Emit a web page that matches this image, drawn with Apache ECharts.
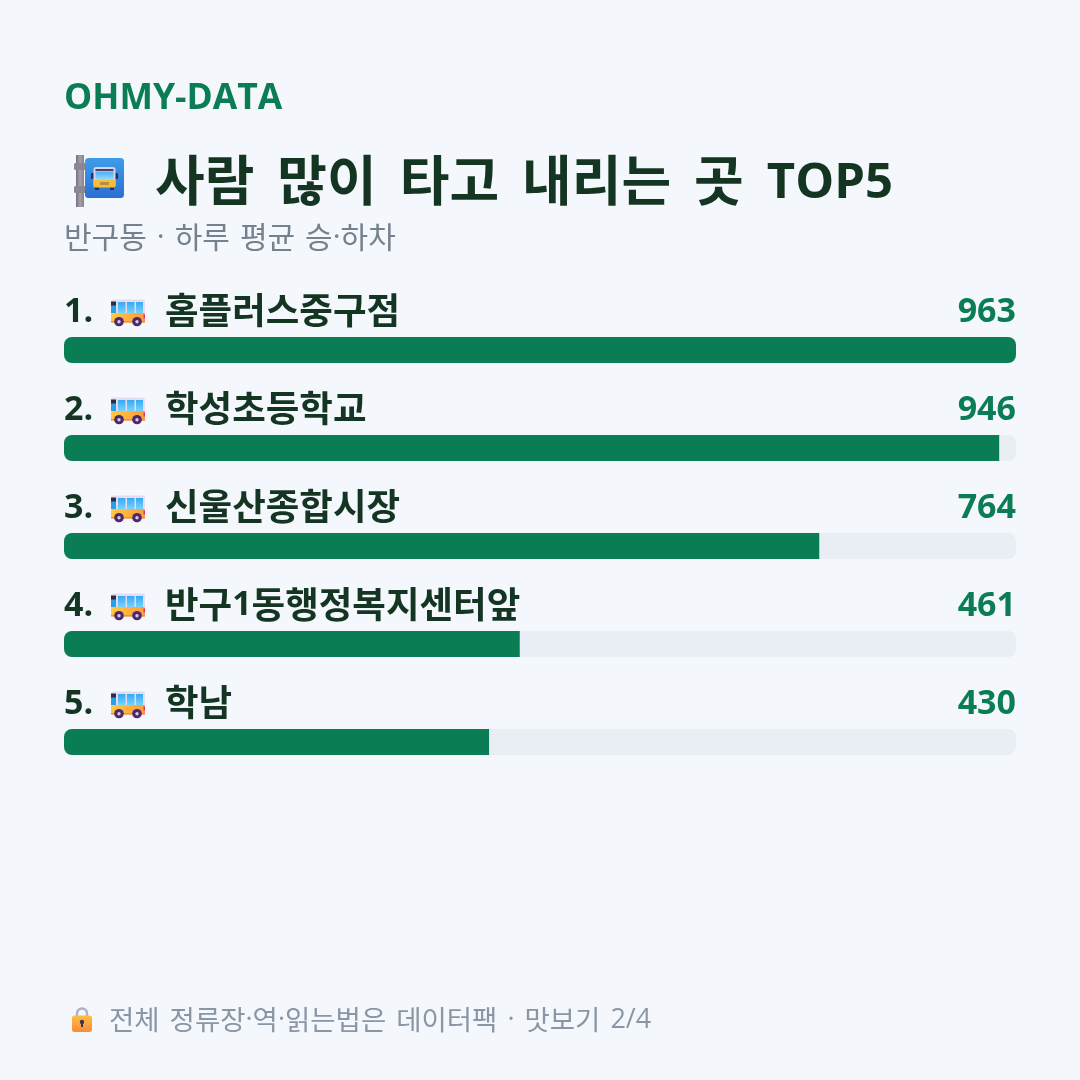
<!DOCTYPE html>
<html lang="ko">
<head>
<meta charset="utf-8">
<title>사람 많이 타고 내리는 곳 TOP5</title>
<style>
  html, body { margin: 0; padding: 0; background: #f4f7fc; }
  #chart { width: 1080px; height: 1080px; }
</style>
</head>
<body>
<div id="chart"></div>
<script src="https://cdn.jsdelivr.net/npm/echarts@6/dist/echarts.min.js"></script>
<script>
// Busiest stops in Bangu-dong: average daily boardings and alightings.
const stops = ['홈플러스중구점', '학성초등학교', '신울산종합시장', '반구1동행정복지센터앞', '학남'];
const riders = [963, 946, 764, 461, 430];
const brand = 'OHMY-DATA';
const heading = '사람 많이 타고 내리는 곳 TOP5';
const subheading = '반구동 · 하루 평균 승·하차';
const footnote = '전체 정류장·역·읽는법은 데이터팩 · 맛보기 2/4';

const GREEN = '#0a7d55';
const INK = '#133522';
const TRACK = '#e9edf4';
const KR = '"Noto Sans CJK KR", "Noto Sans", sans-serif';
const LATIN = '"Open Sans", "Noto Sans", sans-serif';

const svgUri = (w, h, body) => 'data:image/svg+xml;charset=utf-8,' + encodeURIComponent(
  `<svg xmlns="http://www.w3.org/2000/svg" width="${w}" height="${h}" viewBox="0 0 ${w} ${h}">${body}</svg>`);

// Splits mixed Korean/Latin text into rich-text runs so each script gets its own font and size.
const runs = text => text.replace(/\s+|·|[A-Za-z0-9\/\-]+|[^\sA-Za-z0-9\/\-·]+/g, part => {
  if (/^\s+$/.test(part)) return '{sp| }';
  if (part === '·') return '{dot|·}';
  if (/^[A-Za-z0-9\/\-]+$/.test(part)) return `{lat|${part}}`;
  return `{kr|${part}}`;
});

// Rich styles for one line of mixed text; latDrop nudges the Latin runs down onto the Korean baseline.
const mixedRich = (color, weight, krSize, latSize, spaceWidth, lineHeight, latDrop = 0) => ({
  kr: { color, fontFamily: KR, fontWeight: weight, fontSize: krSize, lineHeight },
  lat: { color, fontFamily: LATIN, fontWeight: weight, fontSize: latSize, lineHeight, padding: [latDrop, 0, 0, 0] },
  dot: { color, fontFamily: LATIN, fontWeight: weight, fontSize: latSize, lineHeight },
  sp: { width: spaceWidth, fontSize: krSize, lineHeight }
});

// Small side-view bus shown before every stop name; the clear strip on top lowers it on the text line.
const busIcon = svgUri(34, 33, `
  <defs>
    <linearGradient id="g" x1="0" y1="0" x2="0" y2="1"><stop offset="0" stop-color="#35a9f5"/><stop offset="1" stop-color="#74d3ff"/></linearGradient>
    <linearGradient id="o" x1="0" y1="0" x2="1" y2="0"><stop offset="0" stop-color="#ffc93f"/><stop offset="1" stop-color="#ff9a3c"/></linearGradient>
  </defs>
  <g transform="translate(0 6)">
  <rect x="0" y="0" width="34" height="22" rx="2.5" fill="#e6dcef"/>
  <rect x="0" y="13.5" width="34" height="9.5" rx="1.5" fill="url(#o)"/>
  <rect x="0" y="21.5" width="34" height="1.5" fill="#f08a5b"/>
  <rect x="0" y="3" width="5" height="10.5" fill="#2b9fe6"/>
  <rect x="0" y="2" width="5" height="4" fill="#2c2c44"/>
  <rect x="7" y="2.5" width="7.5" height="11" fill="url(#g)"/>
  <rect x="16" y="2.5" width="7.5" height="11" fill="url(#g)"/>
  <rect x="25" y="2.5" width="7" height="11" fill="url(#g)"/>
  <rect x="32.5" y="15" width="1.5" height="4" fill="#e0307a"/>
  <circle cx="8" cy="22.2" r="4.8" fill="#4b2a6b"/><circle cx="8" cy="22.2" r="1.7" fill="#d9c7e6"/>
  <circle cx="26" cy="22.2" r="4.8" fill="#4b2a6b"/><circle cx="26" cy="22.2" r="1.7" fill="#d9c7e6"/>
  </g>`);

// Bus stop sign next to the heading.
const stopSign = svgUri(53, 52, `
  <defs>
    <linearGradient id="b" x1="0" y1="0" x2="0" y2="1"><stop offset="0" stop-color="#3f9ce9"/><stop offset="1" stop-color="#2a6fd2"/></linearGradient>
    <linearGradient id="p" x1="0" y1="0" x2="1" y2="0"><stop offset="0" stop-color="#75707f"/><stop offset="0.5" stop-color="#a5a1ac"/><stop offset="1" stop-color="#85808e"/></linearGradient>
    <linearGradient id="w" x1="0" y1="0" x2="0" y2="1"><stop offset="0" stop-color="#4fb0f5"/><stop offset="1" stop-color="#9adcff"/></linearGradient>
  </defs>
  <rect x="4" y="0" width="8" height="52" fill="url(#p)"/>
  <rect x="2" y="8" width="12" height="7" rx="1.5" fill="#8a8692"/>
  <rect x="2" y="31" width="12" height="7" rx="1.5" fill="#8a8692"/>
  <rect x="13" y="3" width="39" height="40" rx="3.5" fill="url(#b)"/>
  <rect x="19" y="18" width="3" height="6" rx="1" fill="#2c2f55"/>
  <rect x="43" y="18" width="3" height="6" rx="1" fill="#2c2f55"/>
  <rect x="23" y="30" width="4" height="5" fill="#2c2f55"/>
  <rect x="38" y="30" width="4" height="5" fill="#2c2f55"/>
  <rect x="21.5" y="12" width="22" height="20" rx="2.5" fill="#d8d2ec"/>
  <rect x="23.5" y="14" width="18" height="2.2" fill="#4a3f63"/>
  <rect x="23.5" y="17" width="18" height="8" fill="url(#w)"/>
  <rect x="21.5" y="25" width="22" height="7.5" rx="1.5" fill="#f5bd3c"/>
  <rect x="28" y="27" width="9" height="3" fill="#b98f3f"/>`);

// Padlock in front of the footnote.
const padlock = svgUri(20, 25, `
  <defs><linearGradient id="l" x1="0" y1="0" x2="0" y2="1"><stop offset="0" stop-color="#fdc043"/><stop offset="1" stop-color="#fb8a3c"/></linearGradient></defs>
  <path d="M5 10 V6.5 a5 5 0 0 1 10 0 V10" fill="none" stroke="#b5aec4" stroke-width="2.4"/>
  <rect x="0" y="8.5" width="20" height="16.5" rx="2.5" fill="url(#l)"/>
  <circle cx="10" cy="15" r="2.2" fill="#43304f"/>
  <rect x="9" y="15" width="2" height="5" fill="#43304f"/>`);

const maxRiders = Math.max(...riders);

const option = {
  backgroundColor: '#f4f7fc',
  animation: false,
  title: [
    { text: brand, left: 64, top: 81, padding: 0,
      textStyle: { color: GREEN, fontFamily: LATIN, fontWeight: 700, fontSize: 35.5 } },
    { text: runs(heading), left: 155, top: 148, padding: 0,
      textStyle: { rich: mixedRich(INK, 700, 54, 49, 23, 64, 8) } },
    { text: runs(subheading), left: 64, top: 217, padding: 0,
      textStyle: { rich: mixedRich('#75828e', 400, 30, 30, 10, 40) } },
    { text: runs(footnote), left: 109, top: 1000, padding: 0,
      textStyle: { rich: mixedRich('#8a96a3', 400, 27.5, 27, 10, 40) } }
  ],
  graphic: [
    { type: 'image', left: 72, top: 155, style: { image: stopSign, width: 53, height: 52 } },
    { type: 'image', left: 72, top: 1007, style: { image: padlock, width: 20, height: 25 } }
  ],
  grid: { left: 64, top: 301, width: 952, height: 490 },
  xAxis: { type: 'value', min: 0, max: maxRiders, show: false },
  yAxis: { type: 'category', inverse: true, data: stops, show: false },
  series: [
    {
      // Pale track, with the rider count right-aligned above it
      type: 'bar',
      barWidth: 26,
      barGap: '-100%',
      silent: true,
      z: 1,
      itemStyle: { color: TRACK, borderRadius: 8 },
      label: {
        show: true,
        position: ['100%', -42],
        align: 'right',
        color: GREEN,
        fontFamily: LATIN,
        fontWeight: 700,
        fontSize: 34,
        formatter: p => String(riders[p.dataIndex])
      },
      data: riders.map(() => maxRiders)
    },
    {
      // Rider counts, with the rank, bus and stop name above each bar
      type: 'bar',
      barWidth: 26,
      silent: true,
      z: 2,
      data: riders.map(v => ({
        value: v,
        itemStyle: { color: GREEN, borderRadius: v === maxRiders ? 8 : [8, 0, 0, 8] }
      })),
      label: {
        show: true,
        position: [0, -49],
        align: 'left',
        formatter: p => `{rank|${p.dataIndex + 1}.}{icon|}{gap| }` + runs(p.name),
        rich: {
          rank: { width: 47, color: INK, fontFamily: LATIN, fontWeight: 700, fontSize: 34, lineHeight: 44, padding: [4, 0, 0, 0] },
          icon: { width: 34, height: 33, backgroundColor: { image: busIcon } },
          gap: { width: 20, fontSize: 10 },
          ...mixedRich(INK, 700, 36.5, 34, 10, 44, 2)
        }
      }
    }
  ]
};

echarts.init(document.getElementById('chart')).setOption(option);
</script>
</body>
</html>
